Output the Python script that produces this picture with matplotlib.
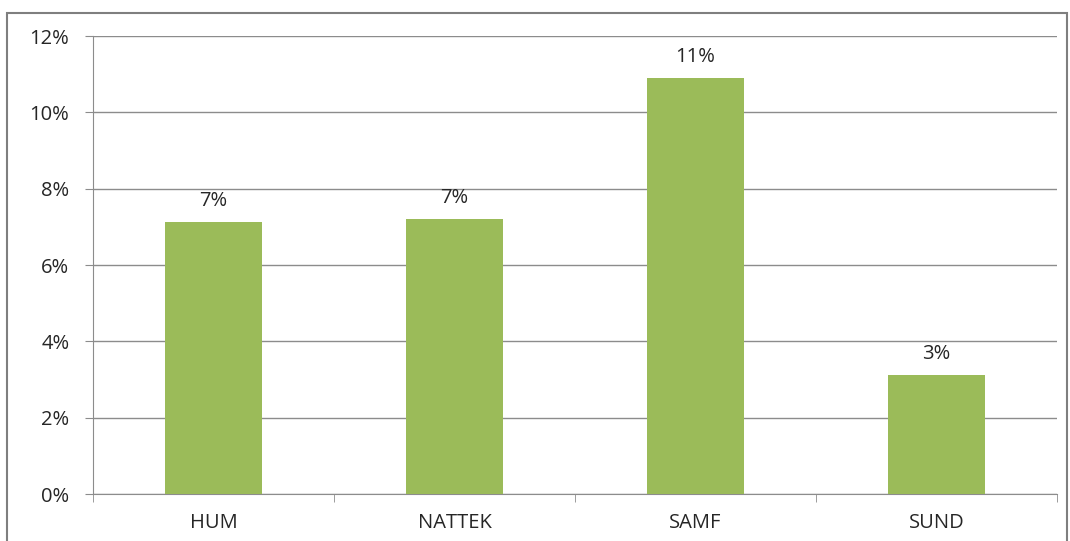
import matplotlib
matplotlib.use("Agg")
import matplotlib.pyplot as plt
from matplotlib.patches import Rectangle
from matplotlib.ticker import FuncFormatter, MultipleLocator, FixedLocator

categories = ["HUM", "NATTEK", "SAMF", "SUND"]
values = [7.13, 7.2, 10.9, 3.12]
labels = ["7%", "7%", "11%", "3%"]

plt.rcParams['font.family'] = ['Open Sans', 'DejaVu Sans']

fig = plt.figure(figsize=(10.70, 5.41), dpi=100)
W, H = 1070, 541
ax = fig.add_axes([93 / W, 1 - 494 / H, (1057 - 93) / W, (494 - 36) / H])

# outer chart frame
fig.patches.append(Rectangle((7 / W, -0.01), (1067 - 7) / W, 1 - 13 / H + 0.01,
                             transform=fig.transFigure, fill=False,
                             edgecolor="#7f7f7f", linewidth=1.5))

x = list(range(len(categories)))
ax.bar(x, values, width=0.4, color="#9bbb59", zorder=3)
for xi, v, lab in zip(x, values, labels):
    ax.annotate(lab, (xi, v), xytext=(0, 8), textcoords="offset points",
                ha="center", va="bottom", fontsize=14.5, color="#262626")

ax.set_xlim(-0.5, len(categories) - 0.5)
ax.set_ylim(0, 12)
ax.yaxis.set_major_locator(MultipleLocator(2))
ax.yaxis.set_major_formatter(FuncFormatter(lambda v, p: f"{v:.0f}%"))
ax.grid(axis="y", color="#8c8c8c", linewidth=1, zorder=0)
ax.set_xticks(x)
ax.set_xticklabels(categories)
ax.xaxis.set_minor_locator(FixedLocator([i - 0.5 for i in range(len(categories) + 1)]))
ax.tick_params(axis="x", which="major", length=0, pad=14, labelsize=14.5, labelcolor="#262626")
ax.tick_params(axis="x", which="minor", length=6, color="#8c8c8c")
ax.tick_params(axis="y", length=6, color="#8c8c8c", pad=11, labelsize=14.5, labelcolor="#262626")
for s in ["top", "right"]:
    ax.spines[s].set_visible(False)
ax.spines["left"].set_color("#8c8c8c")
ax.spines["bottom"].set_color("#8c8c8c")

fig.savefig("out.png", dpi=100)
